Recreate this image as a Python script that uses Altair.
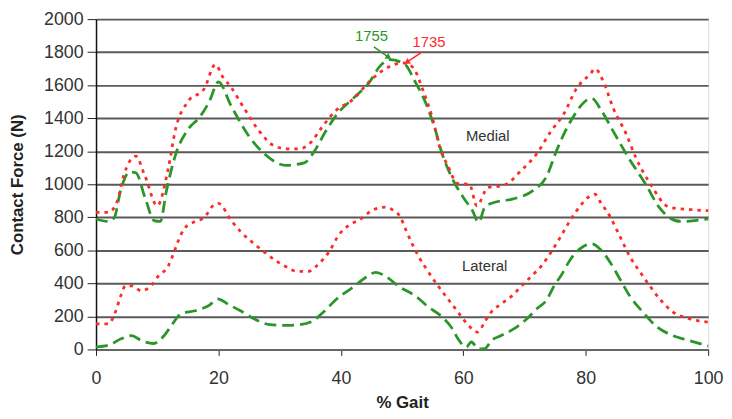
import altair as alt
import pandas as pd

# Medial, green dashed
med_g_x = [0, 2, 3, 4, 5.5, 6.5, 8, 9.5, 10.5, 11.5, 13, 15, 17, 18.5, 20, 22, 25, 27.5, 31, 34, 35.5,
           37.5, 39.5, 42, 44.5, 46.5, 48, 50.5, 52, 54, 55.5, 56.5, 58, 60, 61.5, 62.5, 63.5, 65, 68,
           71.5, 73.5, 75.3, 77.5, 81, 82.5, 84.5, 87, 89.8, 92, 95.5, 100]
med_g_y = [790, 775, 800, 960, 1075, 1070, 920, 780, 775, 960, 1180, 1330, 1410, 1500, 1620, 1480, 1290,
           1185, 1115, 1130, 1190, 1320, 1430, 1520, 1610, 1720, 1755, 1725, 1630, 1480, 1320, 1190, 1050,
           920, 840, 770, 860, 890, 910, 965, 1040, 1210, 1380, 1520, 1450, 1320, 1160, 1000, 860, 775, 790]

# Medial, red dotted
med_r_x = [0, 2, 3.5, 4.5, 6.5, 8, 10, 11.8, 13, 15, 17.7, 19.5, 20.7, 22, 24.2, 26.5, 29, 31.2, 33.3,
           35, 37, 39, 42, 44.6, 47.8, 50, 51.7, 53.5, 55, 56.2, 57.5, 59, 61, 62.2, 64, 66.7, 69.5, 72,
           74.3, 76.4, 78.5, 80.8, 81.5, 82.9, 84.5, 86.6, 88.2, 90.5, 93.7, 97.9, 100]
med_r_y = [830, 830, 900, 1050, 1170, 1050, 870, 1096, 1335, 1500, 1580, 1725, 1650, 1590, 1460, 1330,
           1235, 1215, 1215, 1250, 1350, 1440, 1515, 1620, 1710, 1735, 1710, 1560, 1395, 1220, 1110, 1006,
           1000, 870, 980, 995, 1085, 1185, 1320, 1425, 1580, 1670, 1700, 1620, 1460, 1305, 1160, 1005,
           860, 845, 840]

# Lateral, red dotted
lat_r_x = [0, 2, 3.2, 4, 4.8, 5.8, 7.4, 9, 10.2, 11.8, 12.6, 13.4, 14.5, 16.2, 17.7, 19.1, 20, 22, 23.6,
           26.3, 29.1, 31.2, 32.8, 34.7, 36.3, 38.1, 39.7, 41.4, 43, 45.2, 47.3, 48.5, 49.8, 50.6, 51.7,
           52.7, 53.8, 55.9, 57.5, 59.1, 60.6, 62.4, 63.5, 64.6, 66.2, 67.9, 69.5, 71.1, 72.7, 74.3, 75.9,
           77.5, 79.2, 80.9, 81.5, 82.4, 84, 85.6, 87.2, 88.9, 90.5, 92.1, 94.2, 96.9, 100]
lat_r_y = [155, 155, 230, 320, 385, 385, 355, 385, 445, 505, 575, 655, 735, 775, 800, 870, 885, 785, 715,
           625, 545, 497, 473, 473, 515, 593, 695, 754, 784, 844, 862, 844, 796, 725, 635, 563, 497, 383,
           305, 228, 156, 105, 168, 228, 275, 323, 383, 443, 503, 587, 683, 784, 874, 934, 940, 892, 802,
           683, 563, 467, 383, 305, 228, 186, 165]

# Lateral, green dashed
lat_g_x = [0, 2, 4.2, 5.8, 7.4, 9.4, 11, 12.3, 13.9, 16.2, 18.3, 20, 21.5, 23.6, 25.8, 28.4, 31.2, 33.3,
           35.5, 37.2, 39.3, 42, 44.1, 45.7, 47.3, 49.4, 52.2, 54.3, 56.5, 58.2, 59.1, 60.5, 61.3, 62.5,
           63.5, 64.6, 66.2, 68.3, 70.4, 72, 73.7, 74.8, 75.9, 77.5, 79.6, 81, 82.4, 84, 85.6, 87.2, 89.3,
           91.4, 94.2, 96.9, 100]
lat_g_y = [15, 25, 66, 84, 54, 36, 78, 144, 216, 234, 263, 305, 275, 234, 186, 150, 145, 150, 174, 228,
           305, 377, 437, 467, 443, 383, 323, 257, 198, 126, 66, 15, 45, 3, 5, 54, 84, 126, 186, 246, 305,
           383, 443, 545, 623, 640, 605, 527, 425, 323, 228, 144, 84, 54, 20]

# Axis ticks
x_ticks = [0, 20, 40, 60, 80, 100]
y_ticks = [0, 200, 400, 600, 800, 1000, 1200, 1400, 1600, 1800, 2000]

# Labels and annotations
label_text = ["Medial", "Lateral"]
label_x = [64, 63.5]
label_y = [1290, 505]

ann_text = ["1755", "1735"]
ann_color = ["green", "red"]
ann_x = [45.0, 54.4]
ann_y = [1895, 1860]
arrow_x = [45.4, 53.3]
arrow_y = [1832, 1802]
arrow_x2 = [47.7, 50.9]
arrow_y2 = [1772, 1742]
arrow_angle = [125, 236]

GREEN = "#2a962a"
RED = "#ff2a2a"

rows = []
for name, style, xs, ys in [("Medial green", "green", med_g_x, med_g_y),
                            ("Medial red", "red", med_r_x, med_r_y),
                            ("Lateral red", "red", lat_r_x, lat_r_y),
                            ("Lateral green", "green", lat_g_x, lat_g_y)]:
    for x, y in zip(xs, ys):
        rows.append({"pct": x, "force": y, "curve": name, "style": style})
df = pd.DataFrame(rows)

xscale = alt.Scale(domain=[0, 100], nice=False, zero=False)
yscale = alt.Scale(domain=[0, 2000], nice=False)

color_scale = alt.Scale(domain=["green", "red"], range=[GREEN, RED])
dash_scale = alt.Scale(domain=["green", "red"], range=[[12, 6], [3.5, 5]])

x_axis = alt.Axis(values=x_ticks, grid=False, title="% Gait",
                  tickSize=6, tickColor="#222", labelPadding=14, labelFontSize=18,
                  labelColor="#333", labelFont="Liberation Sans", labelFlush=False,
                  labelOverlap=False, format="d",
                  domainColor="#666", domainWidth=2,
                  titleFontSize=17, titleFontWeight="bold", titleFont="Liberation Sans",
                  titleColor="#222", titleY=54, titleBaseline="middle")
y_axis = alt.Axis(values=y_ticks, grid=True, gridColor="#5a5a5a",
                  gridWidth=2, title="Contact Force (N)", tickSize=9, tickColor="#222",
                  labelPadding=4, labelFontSize=18, labelColor="#333",
                  labelFont="Liberation Sans", labelOverlap=False, labelFlush=False,
                  format="d", domainColor="#111", domainWidth=1.5,
                  titleFontSize=17, titleFontWeight="bold", titleFont="Liberation Sans",
                  titleColor="#222", titleX=-79, titleY=167, titleAngle=270,
                  titleAlign="center", titleBaseline="middle")

lines = alt.Chart(df).mark_line(strokeWidth=2.8, interpolate="monotone").encode(
    x=alt.X("pct:Q", scale=xscale, axis=x_axis),
    y=alt.Y("force:Q", scale=yscale, axis=y_axis),
    color=alt.Color("style:N", scale=color_scale, legend=None),
    strokeDash=alt.StrokeDash("style:N", scale=dash_scale, legend=None),
    detail="curve:N",
)

labels_df = pd.DataFrame({"t": label_text, "x": label_x, "y": label_y})
labels = alt.Chart(labels_df).mark_text(fontSize=15, color="#333", font="Liberation Sans").encode(
    x=alt.X("x:Q", scale=xscale, axis=x_axis), y=alt.Y("y:Q", scale=yscale, axis=y_axis), text="t:N")

ann_df = pd.DataFrame({"t": ann_text, "c": ann_color, "x": ann_x, "y": ann_y,
                       "ax": arrow_x, "ay": arrow_y, "ax2": arrow_x2, "ay2": arrow_y2,
                       "ang": arrow_angle})
ann_color_scale = alt.Scale(domain=["green", "red"], range=[GREEN, RED])
ann_text_layer = alt.Chart(ann_df).mark_text(fontSize=15, font="Liberation Sans").encode(
    x=alt.X("x:Q", scale=xscale, axis=x_axis), y=alt.Y("y:Q", scale=yscale, axis=y_axis), text="t:N",
    color=alt.Color("c:N", scale=ann_color_scale, legend=None))
arrow_lines = alt.Chart(ann_df).mark_rule(strokeWidth=1.5).encode(
    x=alt.X("ax:Q", scale=xscale, axis=x_axis), y=alt.Y("ay:Q", scale=yscale, axis=y_axis),
    x2="ax2:Q", y2="ay2:Q",
    color=alt.Color("c:N", scale=ann_color_scale, legend=None))
arrow_heads = alt.Chart(ann_df).mark_point(shape="triangle", filled=True, size=45, opacity=1).encode(
    x=alt.X("ax2:Q", scale=xscale, axis=x_axis), y=alt.Y("ay2:Q", scale=yscale, axis=y_axis),
    angle=alt.Angle("ang:Q", scale=None),
    color=alt.Color("c:N", scale=ann_color_scale, legend=None))

chart = alt.layer(lines, labels, arrow_lines, arrow_heads, ann_text_layer).properties(
    width=619, height=334,
    autosize=alt.AutoSizeParams(type="none"),
    padding={"left": 89, "top": 9, "right": 16, "bottom": 60},
).configure_view(stroke="#111", strokeWidth=1.5).configure(background="white")

chart.save("out.html", embed_options={"renderer": "svg", "actions": False})
